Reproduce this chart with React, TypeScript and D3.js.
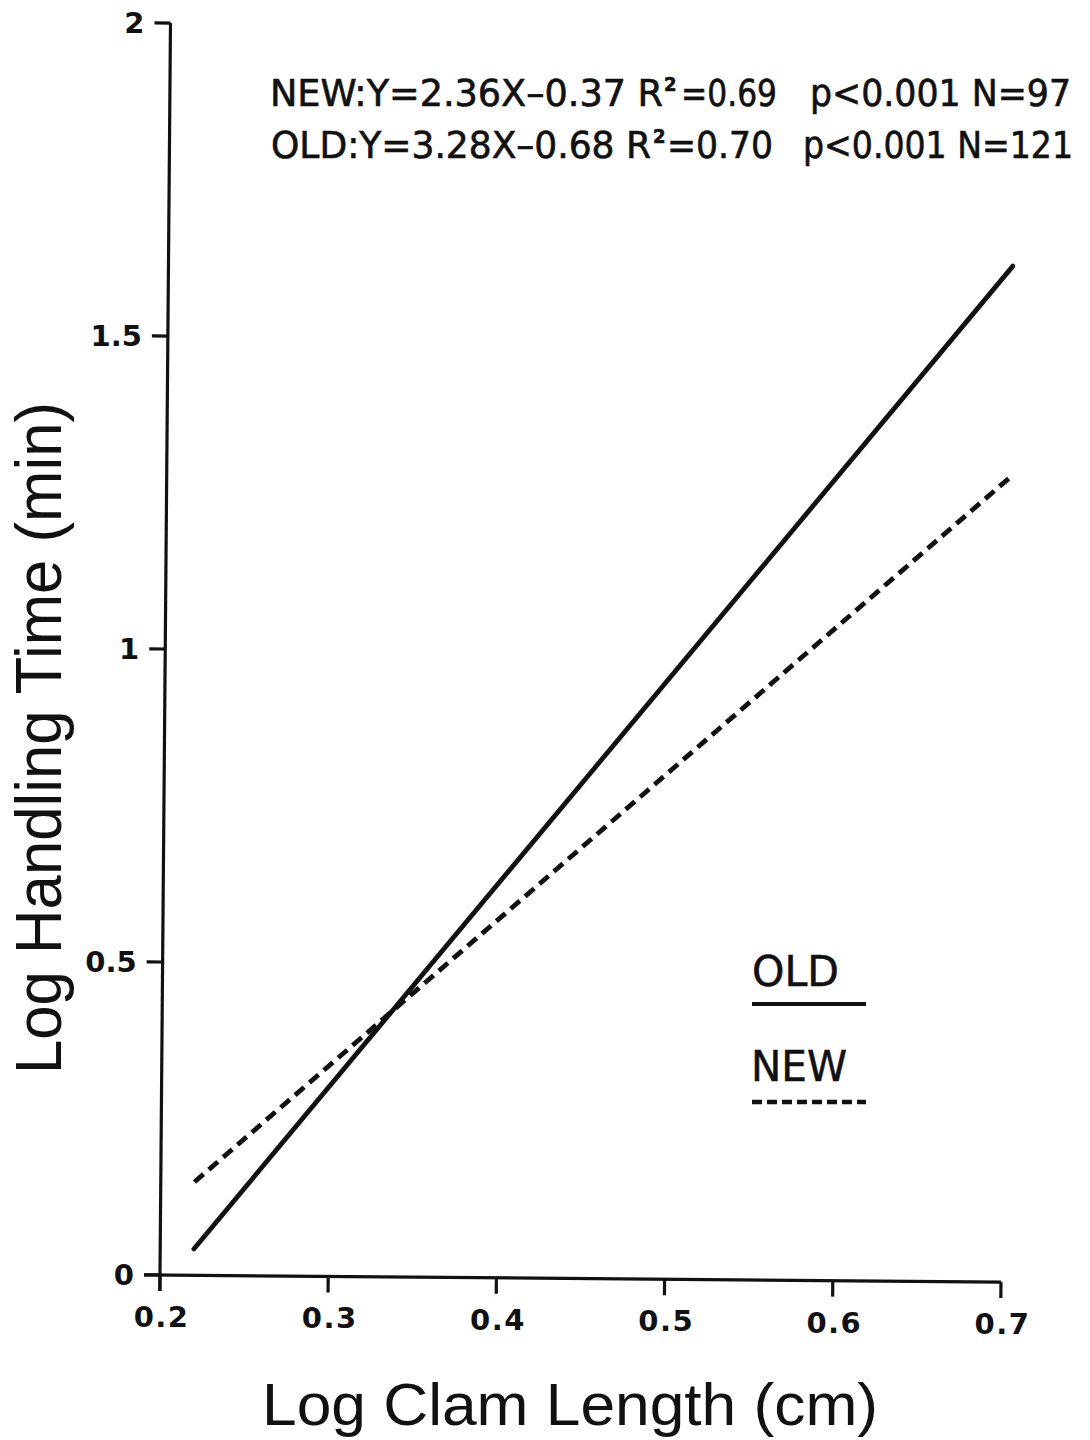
import React from "react";
import * as d3 from "d3";

// Axis ticks
const xTicks = [0.2, 0.3, 0.4, 0.5, 0.6, 0.7];
const xTickLabels = ["0.2", "0.3", "0.4", "0.5", "0.6", "0.7"];
const yTicks = [0, 0.5, 1, 1.5, 2];
const yTickLabels = ["0", "0.5", "1", "1.5", "2"];

// Regression lines (log clam length -> log handling time)
const lineX = [0.22, 0.702];
const oldY = [0.042, 1.623];
const newY = [0.149, 1.287];

// Regression summaries printed at the top
const eqLeft = ["NEW:Y=2.36X\u20130.37 R", "OLD:Y=3.28X\u20130.68 R"];
const eqR2 = ["=0.69", "=0.70"];
const eqRight = ["p<0.001 N=97", "p<0.001 N=121"];

const legendNames = ["OLD", "NEW"];

const W = 1090;
const H = 1440;
const OX = 160;
const OY = 1275;
const TILT = 0.48; // degrees, slight clockwise skew of the plotting frame

const x = d3.scaleLinear().domain([0.2, 0.7]).range([OX, 1001]);
const y = d3.scaleLinear().domain([0, 2]).range([OY, 23]);

const rad = (TILT * Math.PI) / 180;
function rot(px: number, py: number): [number, number] {
  const dx = px - OX;
  const dy = py - OY;
  return [
    OX + dx * Math.cos(rad) - dy * Math.sin(rad),
    OY + dx * Math.sin(rad) + dy * Math.cos(rad),
  ];
}

const line = d3
  .line<[number, number]>()
  .x((d) => x(d[0]))
  .y((d) => y(d[1]));

const oldPts: [number, number][] = lineX.map((v, i) => [v, oldY[i]]);
const newPts: [number, number][] = lineX.map((v, i) => [v, newY[i]]);

const tickFont = "'DejaVu Sans', 'Liberation Sans', sans-serif";
const eqFont = "'DejaVu Sans Condensed', 'Liberation Sans Narrow', 'DejaVu Sans', sans-serif";
const titleFont = "'Liberation Sans', 'DejaVu Sans', sans-serif";

// horizontal layout of each equation line: [leftStart, leftEnd, supX, r2Start, r2End, rightStart, rightEnd]
const eqLayout = [
  [270, 663, 664, 681, 777, 810, 1071],
  [271, 651, 653, 667, 773, 803, 1073],
];
const eqBaseline = [106, 158];

export default function App() {
  const tickLen = 16;
  return (
    <svg
      width={W}
      height={H}
      viewBox={`0 0 ${W} ${H}`}
      style={{ position: "absolute", left: 0, top: 0, display: "block", background: "#fff" }}
    >
      <rect x={0} y={0} width={W} height={H} fill="#fff" />
      <g transform={`rotate(${TILT}, ${OX}, ${OY})`} stroke="#111" fill="none">
        {/* axes */}
        <line x1={OX} y1={y(2)} x2={OX} y2={OY + tickLen} strokeWidth={3.2} />
        <line x1={OX - tickLen} y1={OY} x2={x(0.7)} y2={OY} strokeWidth={3.2} />
        {yTicks.map((v) => (
          <line key={"yt" + v} x1={OX - tickLen} x2={OX} y1={y(v)} y2={y(v)} strokeWidth={3.2} />
        ))}
        {xTicks.map((v) => (
          <line key={"xt" + v} x1={x(v)} x2={x(v)} y1={OY} y2={OY + tickLen} strokeWidth={3.2} />
        ))}
        {/* regression lines */}
        <path d={line(oldPts) || ""} strokeWidth={4.8} strokeLinecap="round" />
        <path d={line(newPts) || ""} strokeWidth={4.8} strokeDasharray="12 7" />
      </g>

      {/* tick labels */}
      <g fill="#111" fontFamily={tickFont} fontWeight="bold" fontSize={29}>
        {yTicks.map((v, i) => {
          const [px, py] = rot(OX - 26, y(v));
          return (
            <text key={"yl" + v} x={px} y={py} dy="0.36em" textAnchor="end">
              {yTickLabels[i]}
            </text>
          );
        })}
        {xTicks.map((v, i) => {
          const [px, py] = rot(x(v), OY + 52);
          return (
            <text key={"xl" + v} x={px + 2} y={py} textAnchor="middle" letterSpacing={1.5}>
              {xTickLabels[i]}
            </text>
          );
        })}
      </g>

      {/* regression summaries */}
      <g fill="#111" fontFamily={eqFont} stroke="#111" strokeWidth={0.6}>
        {eqLeft.map((s, i) => {
          const L = eqLayout[i];
          const b = eqBaseline[i];
          return (
            <g key={"eq" + i}>
              <text x={L[0]} y={b} fontSize={38} textLength={L[1] - L[0]} lengthAdjust="spacingAndGlyphs">
                {s}
              </text>
              <text x={L[2]} y={b - 15} fontSize={20} fontWeight="bold">
                2
              </text>
              <text x={L[3]} y={b} fontSize={38} textLength={L[4] - L[3]} lengthAdjust="spacingAndGlyphs">
                {eqR2[i]}
              </text>
              <text x={L[5]} y={b} fontSize={38} textLength={L[6] - L[5]} lengthAdjust="spacingAndGlyphs">
                {eqRight[i]}
              </text>
            </g>
          );
        })}
      </g>

      {/* legend */}
      <g fontFamily={eqFont} fill="#111">
        <text x={752} y={986} fontSize={42} textLength={87} lengthAdjust="spacingAndGlyphs" stroke="#111" strokeWidth={0.5}>
          {legendNames[0]}
        </text>
        <line x1={752} x2={866} y1={1004} y2={1004} stroke="#111" strokeWidth={4} />
        <text x={751} y={1081} fontSize={42} textLength={96} lengthAdjust="spacingAndGlyphs" stroke="#111" strokeWidth={0.5}>
          {legendNames[1]}
        </text>
        <line x1={752} x2={866} y1={1102} y2={1102} stroke="#111" strokeWidth={4.5} strokeDasharray="10 5" />
      </g>

      {/* axis titles */}
      <text
        x={262}
        y={1425}
        fontFamily={titleFont}
        fontSize={60}
        fill="#111"
        textLength={616}
        lengthAdjust="spacingAndGlyphs"
      >
        Log Clam Length (cm)
      </text>
      <text
        transform={`translate(61, 1074) rotate(-90)`}
        x={0}
        y={0}
        fontFamily={titleFont}
        fontSize={64}
        fill="#111"
        textLength={672}
        lengthAdjust="spacingAndGlyphs"
      >
        Log Handling Time (min)
      </text>
    </svg>
  );
}
